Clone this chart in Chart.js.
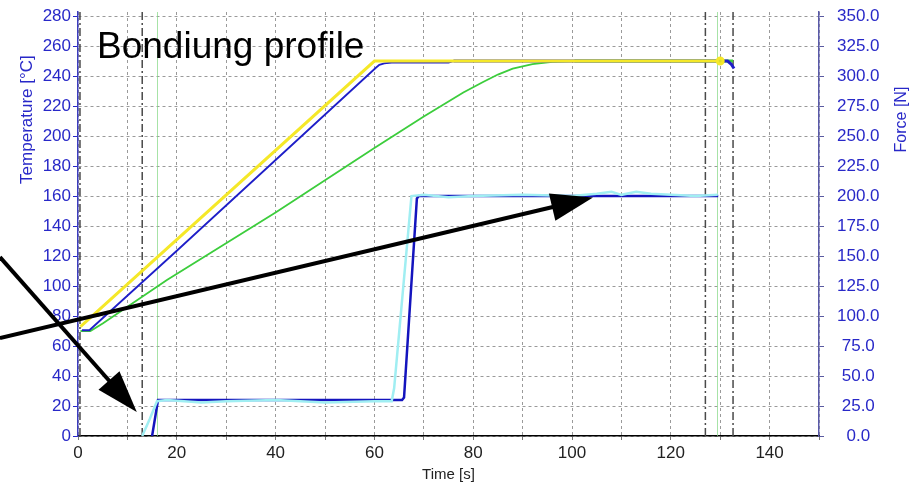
<!DOCTYPE html>
<html>
<head>
<meta charset="utf-8">
<title>Bondiung profile</title>
<script src="https://cdn.jsdelivr.net/npm/chart.js@4.4.1/dist/chart.umd.min.js"></script>
<style>
  body { margin: 0; background: #fff; }
  #wrap { width: 913px; height: 484px; position: relative; }
</style>
</head>
<body>
<div id="wrap"><canvas id="myChart"></canvas></div>
<script>
'use strict';
//data, time in seconds
let setTempTime = [0.5, 60, 130];
let setTempVal = [73, 250, 250];

let actTempTime = [0.8, 2.3, 20, 40, 60.3, 61, 62, 63.5, 75, 76, 131.5, 132.2, 132.8];
let actTempVal = [70.5, 70.5, 123.5, 184, 245.5, 247.5, 248.5, 249, 249, 250, 250, 248, 245];

let sampleTempTime = [0.5, 2.5, 5, 18, 40, 60, 70, 78, 82, 85, 88, 92, 96, 100.5, 132.6];
let sampleTempVal = [70, 70, 75, 104, 149, 192, 213, 229, 236, 241, 245, 248, 249.4, 250, 250];

let forceTime = [15, 16.2, 65.6, 66, 68.6, 69, 129.6];
let forceVal = [0, 30, 30, 32, 198, 200, 200];

let forceRawTime = [13, 14.5, 16, 18, 25, 30, 40, 50, 60, 63.5, 64, 67.5, 70, 75, 80, 90, 100, 105, 108, 110, 113, 116, 120, 125, 129.5];
let forceRawVal = [0, 14, 29, 30, 28, 29, 30, 28, 29, 29, 40, 200, 201, 199, 200, 201, 200, 202, 203.5, 201, 203.5, 202, 201, 200, 201];

let xTicks = [0, 20, 40, 60, 80, 100, 120, 140];
let tempTicks = [0, 20, 40, 60, 80, 100, 120, 140, 160, 180, 200, 220, 240, 260, 280];
let forceTicks = [0, 25, 50, 75, 100, 125, 150, 175, 200, 225, 250, 275, 300, 325, 350];

//event markers on the time axis
let dashDotTimes = [0.4, 13, 127, 132.6];
let greenMarkTimes = [16, 129.3];

//arrows drawn over the chart, [time, temperature] of tail and tip
let arrows = [
  [[-15.8, 65.3], [104.25, 159]],
  [[-15.8, 119.3], [11.9, 16]]
];

const BLUE_TEXT = 'rgb(40,40,200)';
const FONT = '"Liberation Sans", Arial, sans-serif';

function pairs(xs, ys) {
  let out = [];
  for (let i = 0; i < xs.length; i++) {
    out.push({ x: xs[i], y: ys[i] });
  }
  return out;
}

// replace the generated ticks with the listed values
function useTicks(list) {
  return function (scale) {
    scale.ticks = list.map(v => ({ value: v }));
  };
}

// thicker line once the curve is on its plateau
function widthFrom(t, thin, thick) {
  return c => (c.p0.parsed.x >= t ? thick : thin);
}

// vertical event lines behind the data
let markerPlugin = {
  id: 'markers',
  beforeDatasetsDraw(chart) {
    let ctx = chart.ctx;
    let xs = chart.scales.x;
    let area = chart.chartArea;
    ctx.save();
    ctx.lineWidth = 1;
    ctx.strokeStyle = 'rgba(130,215,130,0.7)';
    greenMarkTimes.forEach(function (t) {
      let px = Math.round(xs.getPixelForValue(t)) + 0.5;
      ctx.beginPath();
      ctx.moveTo(px, area.top);
      ctx.lineTo(px, area.bottom);
      ctx.stroke();
    });
    ctx.lineWidth = 1.5;
    ctx.strokeStyle = '#4a4a4a';
    ctx.setLineDash([8, 3, 2, 3]);
    dashDotTimes.forEach(function (t) {
      let px = xs.getPixelForValue(t);
      ctx.beginPath();
      ctx.moveTo(px, area.top);
      ctx.lineTo(px, area.bottom);
      ctx.stroke();
    });
    ctx.restore();
  }
};

function sideTitle(ctx, text, x, y, size) {
  ctx.save();
  ctx.translate(x, y);
  ctx.rotate(-Math.PI / 2);
  ctx.font = size + 'px ' + FONT;
  ctx.fillStyle = BLUE_TEXT;
  ctx.textAlign = 'center';
  ctx.textBaseline = 'middle';
  ctx.fillText(text, 0, 0);
  ctx.restore();
}

// axis titles, title text inside the plot and the black arrows
let notePlugin = {
  id: 'notes',
  afterDraw(chart) {
    let ctx = chart.ctx;
    let xs = chart.scales.x;
    let ys = chart.scales.y;
    let ys2 = chart.scales.y2;
    let midY = ys.getPixelForValue(211);
    sideTitle(ctx, 'Temperature [°C]', ys.left + 27, midY, 17);
    sideTitle(ctx, 'Force [N]', ys2.right - 11, midY, 16);

    ctx.save();
    ctx.fillStyle = '#000';
    ctx.font = '37px ' + FONT;
    ctx.textBaseline = 'alphabetic';
    ctx.fillText('Bondiung profile', xs.getPixelForValue(3.85), ys.getPixelForValue(252));

    arrows.forEach(function (a) {
      let x0 = xs.getPixelForValue(a[0][0]);
      let y0 = ys.getPixelForValue(a[0][1]);
      let x1 = xs.getPixelForValue(a[1][0]);
      let y1 = ys.getPixelForValue(a[1][1]);
      let ang = Math.atan2(y1 - y0, x1 - x0);
      let headLen = 42;
      let headHalf = 14;
      let bx = x1 - headLen * Math.cos(ang);
      let by = y1 - headLen * Math.sin(ang);
      ctx.strokeStyle = '#000';
      ctx.lineWidth = 4;
      ctx.beginPath();
      ctx.moveTo(x0, y0);
      ctx.lineTo(bx + 4 * Math.cos(ang), by + 4 * Math.sin(ang));
      ctx.stroke();
      ctx.beginPath();
      ctx.moveTo(x1, y1);
      ctx.lineTo(bx + headHalf * Math.sin(ang), by - headHalf * Math.cos(ang));
      ctx.lineTo(bx - headHalf * Math.sin(ang), by + headHalf * Math.cos(ang));
      ctx.closePath();
      ctx.fill();
    });
    ctx.restore();
  }
};

let ctx = document.getElementById('myChart').getContext('2d');

new Chart(ctx, {
  type: 'line',
  data: {
    datasets: [{
      label: 'Force raw',
      data: pairs(forceRawTime, forceRawVal),
      yAxisID: 'y2',
      borderColor: 'rgb(160,238,242)',
      borderWidth: 2.5,
      pointRadius: 0
    }, {
      label: 'Force',
      data: pairs(forceTime, forceVal),
      yAxisID: 'y2',
      borderColor: 'rgb(20,20,190)',
      borderWidth: 2.5,
      pointRadius: 0
    }, {
      label: 'Set temperature',
      data: pairs(setTempTime, setTempVal),
      yAxisID: 'y',
      borderColor: 'rgb(245,232,40)',
      backgroundColor: 'rgb(220,220,40)',
      borderWidth: 3,
      pointRadius: c => (c.dataIndex === setTempTime.length - 1 ? 3 : 0)
    }, {
      label: 'Temperature',
      data: pairs(actTempTime, actTempVal),
      yAxisID: 'y',
      borderColor: 'rgb(30,30,200)',
      borderWidth: 1.8,
      segment: { borderWidth: widthFrom(75.5, 1.8, 3) },
      pointRadius: 0
    }, {
      label: 'Sample temperature',
      data: pairs(sampleTempTime, sampleTempVal),
      yAxisID: 'y',
      borderColor: 'rgb(60,205,60)',
      borderWidth: 1.8,
      segment: { borderWidth: widthFrom(100, 1.8, 3) },
      pointRadius: 0
    }]
  },
  options: {
    responsive: true,
    maintainAspectRatio: false,
    animation: false,
    layout: { padding: { top: 0, right: 0, left: 0, bottom: 0 } },
    plugins: {
      legend: { display: false },
      tooltip: { enabled: false }
    },
    elements: { line: { tension: 0 } },
    scales: {
      x: {
        type: 'linear',
        position: 'bottom',
        min: 0,
        max: 150,
        ticks: {
          stepSize: 10,
          color: '#222',
          font: { size: 17, family: FONT },
          padding: 3,
          maxRotation: 0,
          autoSkip: false,
          callback: v => (xTicks.indexOf(v) !== -1 ? v : '')
        },
        grid: { color: '#9a9a9a', tickLength: 4, tickColor: '#777' },
        border: { color: '#000', width: 1.5, dash: [3, 3] },
        title: {
          display: true,
          text: 'Time [s]',
          color: '#222',
          font: { size: 15, family: FONT },
          padding: { top: 0, bottom: 0 }
        },
        afterFit: s => { s.height = 48; }
      },
      y: {
        position: 'left',
        min: 0,
        max: 282.7,
        afterBuildTicks: useTicks(tempTicks),
        ticks: {
          color: BLUE_TEXT,
          font: { size: 17, family: FONT },
          padding: 2
        },
        grid: { color: '#9a9a9a', tickLength: 5, tickColor: BLUE_TEXT },
        border: { color: 'rgb(60,60,190)', width: 1.5, dash: [3, 3] },
        afterFit: s => { s.width = 78; s.paddingTop = 12; s.paddingBottom = 10; }
      },
      y2: {
        position: 'right',
        min: 0,
        max: 353.4,
        afterBuildTicks: useTicks(forceTicks),
        ticks: {
          color: BLUE_TEXT,
          font: { size: 17, family: FONT },
          padding: 13,
          crossAlign: 'center',
          callback: v => v.toFixed(1)
        },
        grid: { drawOnChartArea: false, tickLength: 5, tickColor: 'rgb(90,90,160)' },
        border: { color: 'rgb(90,90,170)', width: 1.5 },
        afterFit: s => { s.width = 94; s.paddingTop = 12; s.paddingBottom = 10; }
      }
    }
  },
  plugins: [markerPlugin, notePlugin]
});
</script>
</body>
</html>
